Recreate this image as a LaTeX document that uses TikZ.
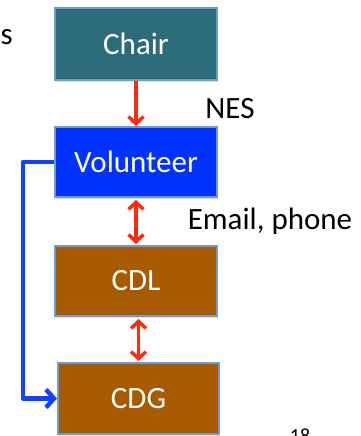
\documentclass[tikz,border=0pt]{standalone}
\usepackage{fontspec}
\setmainfont{Carlito}
\usetikzlibrary{arrows.meta,shadows}
\definecolor{chairc}{HTML}{2C6B79}
\definecolor{volc}{HTML}{0033FF}
\definecolor{brownc}{HTML}{A85A00}
\definecolor{edgec}{HTML}{6E9BD0}
\definecolor{redc}{HTML}{FF2A12}
\definecolor{linec}{HTML}{1440FF}
\tikzset{
  box/.style={draw=edgec, line width=2pt, minimum width=162pt, minimum height=71pt,
    text=white, font=\fontsize{31}{31}\selectfont, inner sep=0pt,
    drop shadow={shadow xshift=1pt, shadow yshift=-2pt, opacity=0.25}},
  redtip/.tip={Straight Barb[length=7pt,width=15pt,line width=3.5pt]},
  redarrow/.style={draw=redc, line width=3.5pt, -redtip},
  redboth/.style={draw=redc, line width=3.5pt, redtip-redtip},
  bluearrow/.style={draw=linec, line width=4.5pt, line join=round, -{Straight Barb[length=8pt,width=18pt]}},
  lbl/.style={font=\fontsize{31}{31}\selectfont, text=black, inner sep=0pt}
}
\begin{document}
\begin{tikzpicture}[x=1pt,y=-1pt]
\useasboundingbox (0,0) rectangle (360,436);
\clip (0,0) rectangle (360,436);
\node[box, fill=chairc, minimum height=72pt] (chair) at (136,44) {Chair};
\node[box, fill=volc, minimum height=70pt] (vol) at (136,162) {Volunteer};
\node[box, fill=brownc, minimum height=70pt] (cdl) at (136,281) {CDL};
\node[box, fill=brownc, minimum width=161pt] (cdg) at (138.5,398.5) {CDG};
\draw[redarrow] (chair.south) -- (vol.north);
\draw[redboth, shorten <=2pt, shorten >=1pt] (vol.south) -- (cdl.north);
\draw[redboth, shorten <=2pt, shorten >=1pt] (cdg.north |- cdl.south) -- (cdg.north);
\coordinate (corner) at (23,162);
\draw[bluearrow] (vol.west) -- (corner) |- (cdg.west);
\node[lbl, anchor=base east] (s) at (13,45) {s};
\node[lbl, anchor=base] (nes) at (230,118) {NES};
\node[lbl, anchor=base] (email) at (270,229) {Email, phone};
\node[font=\fontsize{20}{20}\selectfont, inner sep=0pt, anchor=north] (num) at (300,428.5) {18};
\end{tikzpicture}
\end{document}
